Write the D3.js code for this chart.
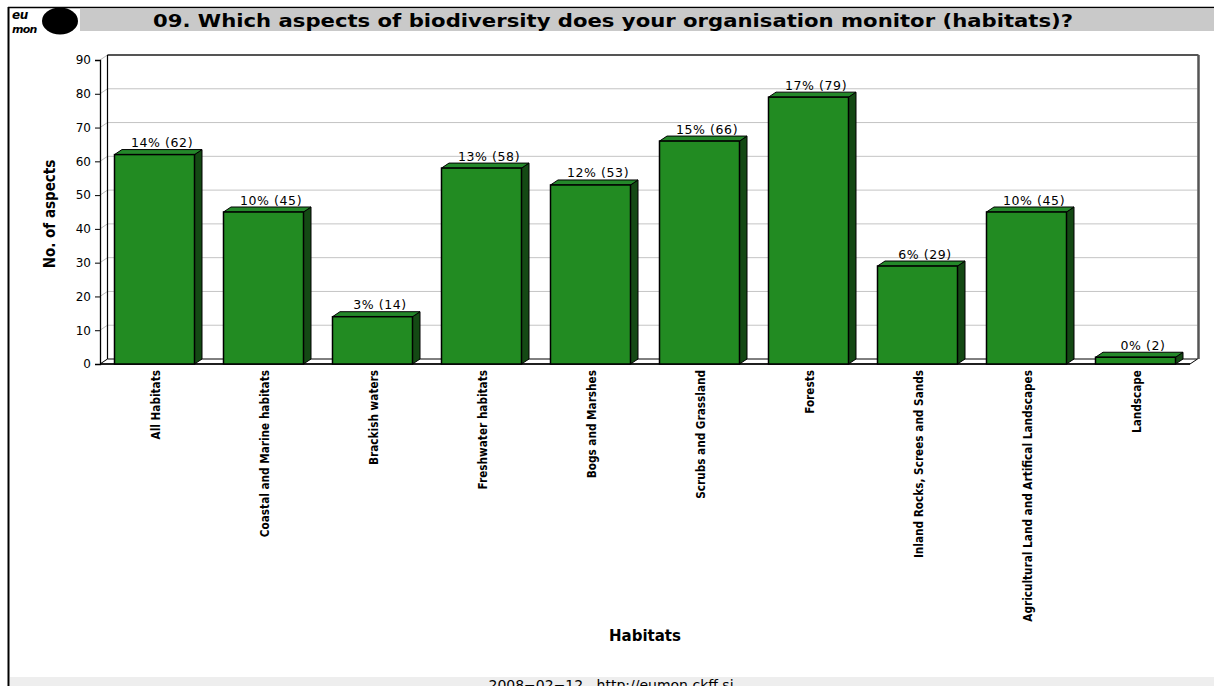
<!DOCTYPE html>
<html><head><meta charset="utf-8">
<script src="https://cdn.jsdelivr.net/npm/d3@7"></script>
<style>html,body{margin:0;padding:0;background:#fff;}svg{display:block;}</style>
</head><body>
<script>
const categories = ["All Habitats","Coastal and Marine habitats","Brackish waters","Freshwater habitats","Bogs and Marshes","Scrubs and Grassland","Forests","Inland Rocks, Screes and Sands","Agricultural Land and Artifical Landscapes","Landscape"];
const values = [62,45,14,58,53,66,79,29,45,2];
const percents = ["14%","10%","3%","13%","12%","15%","17%","6%","10%","0%"];
const yTicks = [0,10,20,30,40,50,60,70,80,90];
const titleText = "09. Which aspects of biodiversity does your organisation monitor (habitats)?";
const xTitle = "Habitats";
const yTitle = "No. of aspects";
const footerText = "2008\u221202\u221212   http://eumon.ckff.si";

const W = 1214, H = 686;
const DX = 7.5, DY = -5;
const svg = d3.select("body").append("svg").attr("width", W).attr("height", H);

// frame
svg.append("line").attr("x1",8).attr("x2",W).attr("y1",7.5).attr("y2",7.5).attr("stroke","#000").attr("stroke-width",1.5);
svg.append("line").attr("x1",8.5).attr("x2",8.5).attr("y1",7).attr("y2",H).attr("stroke","#000").attr("stroke-width",2);
// title band
svg.append("rect").attr("x",80).attr("y",9).attr("width",W-80).attr("height",22).attr("fill","#c9c9c9");
svg.append("text").attr("x",153).attr("y",27).attr("font-family","DejaVu Sans").attr("font-weight","bold")
  .attr("font-size",18).attr("textLength",920).attr("lengthAdjust","spacingAndGlyphs").attr("fill","#000").text(titleText);
// logo
svg.append("ellipse").attr("cx",60).attr("cy",21).attr("rx",18).attr("ry",13.5).attr("fill","#000");
svg.append("text").attr("x",12).attr("y",19).attr("font-family","DejaVu Sans").attr("font-style","italic").attr("font-weight","bold")
  .attr("font-size",12).attr("fill","#000").attr("letter-spacing",-0.5).text("eu");
svg.append("text").attr("x",12).attr("y",33).attr("font-family","DejaVu Sans").attr("font-style","italic").attr("font-weight","bold")
  .attr("font-size",11).attr("fill","#000").attr("letter-spacing",-0.8).text("mon");
// footer
svg.append("rect").attr("x",10).attr("y",677).attr("width",W-10).attr("height",H-677).attr("fill","#eeeeee");
svg.append("text").attr("x",611).attr("y",690).attr("text-anchor","middle").attr("font-family","DejaVu Sans")
  .attr("font-size",14).attr("fill","#000").attr("xml:space","preserve").text(footerText);

// scales
const x = d3.scaleBand().domain(categories).range([100,1190]).paddingInner(0.266).paddingOuter(0.133);
const y = d3.scaleLinear().domain([0,90]).range([364,60]);

// back wall
const g = svg.append("g");
g.append("rect").attr("x",100+DX).attr("y",y(90)+DY).attr("width",1190-100).attr("height",y(0)-y(90)).attr("fill","#fff");
// gridlines
yTicks.forEach(t => {
  if (t>0) g.append("line").attr("x1",100+DX).attr("x2",1190+DX).attr("y1",y(t)+DY).attr("y2",y(t)+DY).attr("stroke","#c4c4c4").attr("stroke-width",1);
  g.append("line").attr("x1",100).attr("x2",100+DX).attr("y1",y(t)).attr("y2",y(t)+DY).attr("stroke","#bdbdbd").attr("stroke-width",1);
});
// wall borders
g.append("line").attr("x1",100+DX).attr("x2",1190+DX+1).attr("y1",y(90)+DY).attr("y2",y(90)+DY).attr("stroke","#555").attr("stroke-width",2);
g.append("line").attr("x1",1190+DX+1).attr("x2",1190+DX+1).attr("y1",y(90)+DY).attr("y2",y(0)+DY).attr("stroke","#555").attr("stroke-width",2.5);
g.append("line").attr("x1",100+DX).attr("x2",100+DX).attr("y1",y(90)+DY).attr("y2",y(0)+DY).attr("stroke","#000").attr("stroke-width",1.2);
// floor
g.append("path").attr("d",`M100,${y(0)} L${100+DX},${y(0)+DY} L${1190+DX},${y(0)+DY} L1190,${y(0)} Z`)
  .attr("fill","#fff").attr("stroke","#000").attr("stroke-width",1);
g.append("line").attr("x1",100).attr("x2",1190).attr("y1",y(0)).attr("y2",y(0)).attr("stroke","#000").attr("stroke-width",1.5);

// y axis
const yAxis = d3.axisLeft(y).tickValues(yTicks).tickSize(5).tickPadding(4);
const ya = svg.append("g").attr("transform","translate(100,0)").call(yAxis);
ya.select(".domain").attr("stroke","#000").attr("stroke-width",1.3);
ya.selectAll(".tick line").attr("stroke","#000");
ya.selectAll(".tick text").attr("font-family","DejaVu Sans").attr("font-size",12).attr("fill","#000");

// bars
const bars = svg.append("g").selectAll("g").data(categories).join("g");
bars.each(function(c,i){
  const sel = d3.select(this);
  const x0 = x(c), x1 = x(c)+x.bandwidth(), yt = y(values[i]), yb = y(0);
  sel.append("path").attr("d",`M${x1},${yb} L${x1+DX},${yb+DY} L${x1+DX},${yt+DY} L${x1},${yt} Z`)
    .attr("fill","#144914").attr("stroke","#000").attr("stroke-width",1).attr("stroke-linejoin","round");
  sel.append("path").attr("d",`M${x0},${yt} L${x0+DX},${yt+DY} L${x1+DX},${yt+DY} L${x1},${yt} Z`)
    .attr("fill","#24882a").attr("stroke","#000").attr("stroke-width",1).attr("stroke-linejoin","round");
  sel.append("rect").attr("x",x0).attr("y",yt).attr("width",x.bandwidth()).attr("height",yb-yt)
    .attr("fill","#228b22").attr("stroke","#000").attr("stroke-width",1.5);
  sel.append("text").attr("x",x0+x.bandwidth()/2+DX).attr("y",yt+DY-2.5).attr("text-anchor","middle")
    .attr("font-family","DejaVu Sans").attr("font-size",12.5).attr("letter-spacing",0.6).attr("fill","#000")
    .text(`${percents[i]} (${values[i]})`);
});

// x labels
svg.append("g").selectAll("text").data(categories).join("text")
  .attr("transform", d => `translate(${x(d)+x.bandwidth()/2+5},370) rotate(-90)`)
  .attr("text-anchor","end").attr("font-family","DejaVu Sans Condensed").attr("font-weight","bold")
  .attr("font-size",11.7).attr("fill","#000").text(d => d);

// axis titles
svg.append("text").attr("transform","translate(55,214) rotate(-90)").attr("text-anchor","middle")
  .attr("font-family","DejaVu Sans Condensed").attr("font-weight","bold").attr("font-size",15).attr("fill","#000").text(yTitle);
svg.append("text").attr("x",645).attr("y",641).attr("text-anchor","middle")
  .attr("font-family","DejaVu Sans").attr("font-weight","bold").attr("font-size",15).attr("fill","#000").text(xTitle);
</script>
</body></html>
